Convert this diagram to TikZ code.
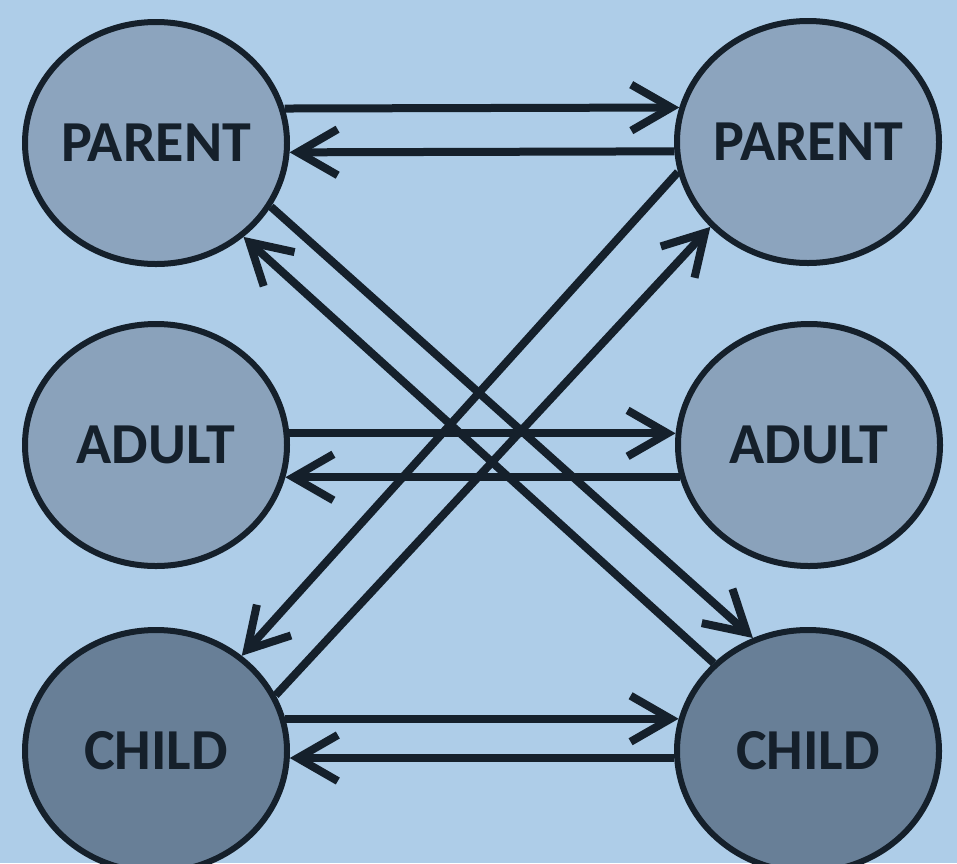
\documentclass[tikz,border=0pt]{standalone}
\usepackage{fontspec}
\setmainfont{Carlito}
\usetikzlibrary{arrows.meta,shapes.geometric}
\definecolor{bg}{HTML}{AECDE8}
\definecolor{pfill}{HTML}{8CA4BE}
\definecolor{afill}{HTML}{8AA2BB}
\definecolor{cfill}{HTML}{687F97}
\definecolor{ink}{HTML}{15202B}
\begin{document}
\begin{tikzpicture}[x=1pt,y=-1pt,
  state/.style={ellipse, draw=ink, line width=6pt, minimum width=262pt, minimum height=242pt,
    inner sep=-30pt, font=\bfseries\fontsize{58}{62}\selectfont, text=ink},
  link/.style={draw=ink, line width=8pt, -{Straight Barb[length=40pt,width=46pt]}}]
\fill[bg] (0,0) rectangle (957,863);
\useasboundingbox (0,0) rectangle (957,863);
\node[state, fill=pfill] (lp) at (156,143) {PARENT};
\node[state, fill=pfill] (rp) at (808,142) {PARENT};
\node[state, fill=afill] (la) at (156,445) {ADULT};
\node[state, fill=afill] (ra) at (809,445) {ADULT};
\node[state, fill=cfill] (lc) at (156,751) {CHILD};
\node[state, fill=cfill] (rc) at (808,751) {CHILD};
\draw[link] (lp.15) -- (rp.165);
\draw[link] (rp.184) -- (lp.356);
\draw[link] (la.5) -- (ra.175);
\draw[link] (ra.194) -- (la.346);
\draw[link] (lc.14) -- (rc.166);
\draw[link] (rc.183) -- (lc.357);
\draw[link] (lp.331) -- (rc.116);
\draw[link] (rc.137) -- (lp.313);
\draw[link] (rp.193) -- (lc.48);
\draw[link] (lc.25) -- (rp.221);
\end{tikzpicture}
\end{document}
